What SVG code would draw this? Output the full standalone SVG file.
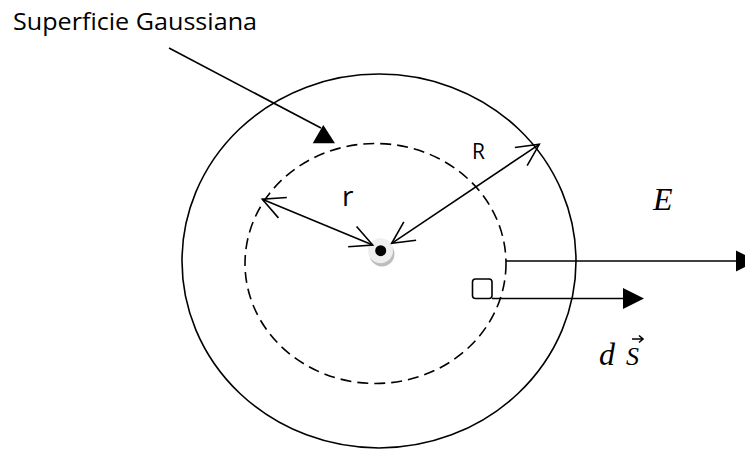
<svg xmlns="http://www.w3.org/2000/svg" width="745" height="449" viewBox="0 0 745 449">
  <style>
    .ln { stroke: #000; stroke-width: 1.6; fill: none; }
    .dash { stroke-dasharray: 11 6; }
    .tri { fill: #000; stroke: none; }
    .sans { font-family: "Open Sans", "Liberation Sans", sans-serif; fill: #000; }
    .serif { font-family: "Liberation Serif", "Times New Roman", serif; font-style: italic; fill: #000; }
  </style>
  <defs>
    <marker id="open" markerUnits="userSpaceOnUse" markerWidth="30" markerHeight="30" viewBox="-25 -15 30 30" refX="0" refY="0" orient="auto-start-reverse">
      <path d="M-22,-11 L0,0 L-22,11" fill="none" stroke="#000" stroke-width="1.6"/>
    </marker>
  </defs>
  <rect width="745" height="449" fill="#fff"/>

  <g id="outer-sphere">
    <ellipse class="ln" cx="379" cy="261" rx="197" ry="187"/>
  </g>
  <g id="gaussian-surface">
    <ellipse class="ln dash" cx="375.5" cy="263.5" rx="130.5" ry="120"/>
  </g>
  <g id="charge">
    <circle cx="382" cy="254" r="12.5" fill="#bdbdbd"/>
    <circle cx="380.5" cy="250.7" r="12.5" fill="#eeeeee"/>
    <circle cx="380.7" cy="250.7" r="5.5" fill="#000"/>
  </g>
  <g id="area-element">
    <rect class="ln" x="472.5" y="279" width="19.5" height="19.5" rx="3"/>
  </g>

  <g id="connectors">
    <line class="ln" x1="169" y1="48" x2="321" y2="128"/>
    <polygon class="tri" points="323.3,125 312.7,143.3 335,143.3"/>
    <line class="ln" x1="262.3" y1="199.3" x2="372.7" y2="245" marker-start="url(#open)" marker-end="url(#open)"/>
    <line class="ln" x1="391.7" y1="243.3" x2="539.3" y2="144.3" marker-start="url(#open)" marker-end="url(#open)"/>
    <line class="ln" x1="506" y1="261" x2="737" y2="261"/>
    <polygon class="tri" points="736,250.5 736,271.5 757,261"/>
    <line class="ln" x1="492" y1="298.5" x2="624" y2="298.5"/>
    <polygon class="tri" points="623,288 623,309 644,298.5"/>
  </g>

  <g id="labels">
    <text class="sans" x="13" y="30" font-size="24" textLength="244" lengthAdjust="spacingAndGlyphs">Superficie Gaussiana</text>
    <text class="sans" x="342" y="206" font-size="28">r</text>
    <text class="sans" x="472" y="159" font-size="21">R</text>
    <text class="serif" x="653" y="210" font-size="32">E</text>
    <text class="serif" x="599" y="365" font-size="32">d</text>
    <text class="serif" x="626" y="365" font-size="26">S</text>
    <path class="ln" d="M632,339 L643,339 M639,335.5 L643,339 L639,342.5" stroke-width="1"/>
  </g>
</svg>
